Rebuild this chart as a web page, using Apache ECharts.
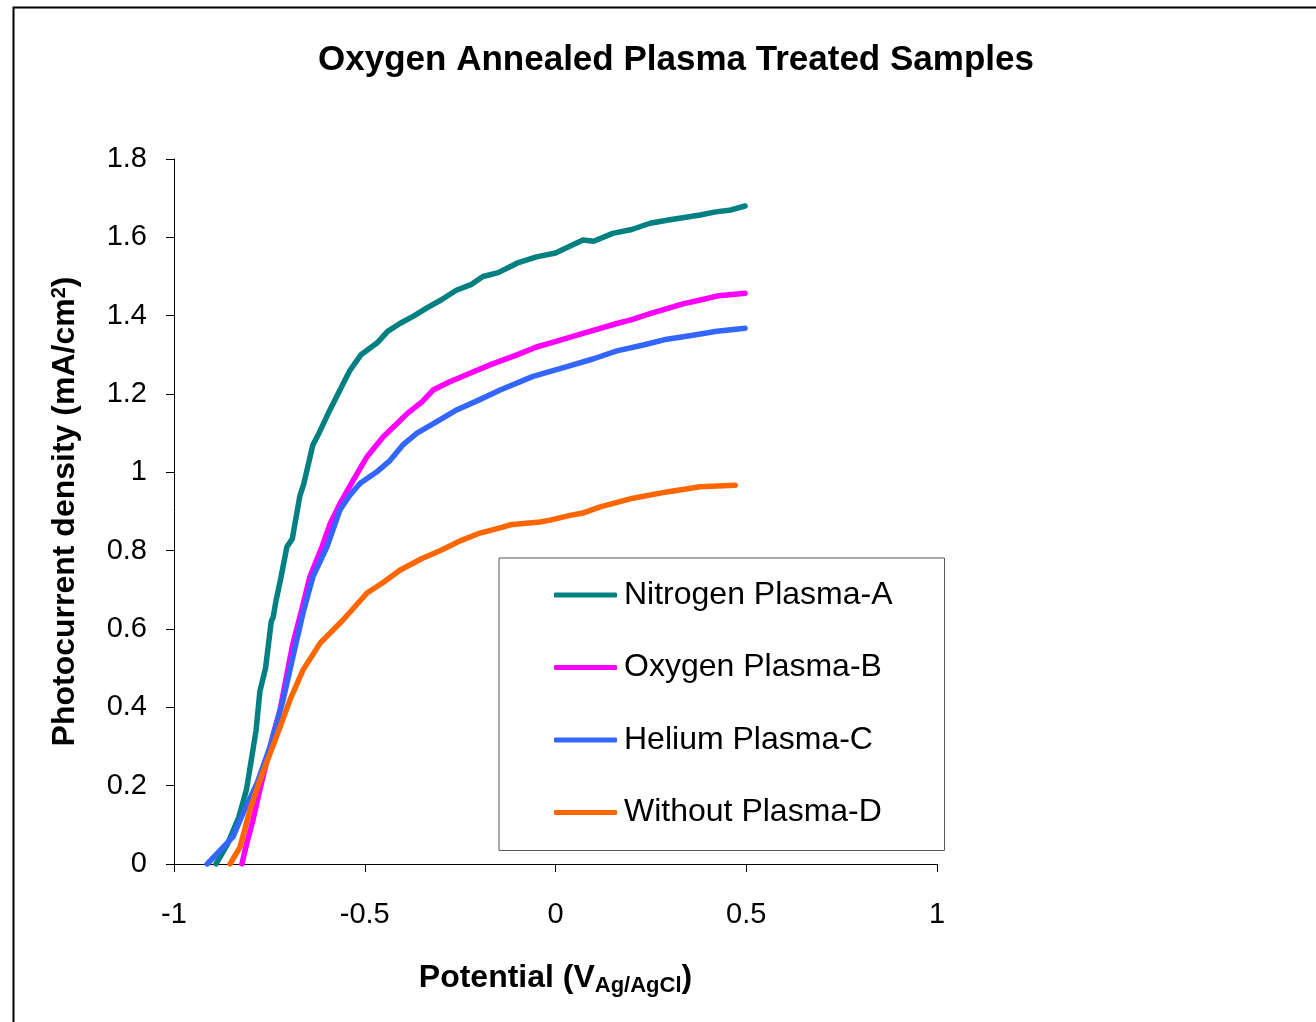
<!DOCTYPE html>
<html>
<head>
<meta charset="utf-8">
<script src="https://cdn.jsdelivr.net/npm/echarts@6/dist/echarts.min.js"></script>
<style>
html,body{margin:0;padding:0;background:#fff;}
#c{width:1316px;height:1022px;}
</style>
</head>
<body>
<div id="c"></div>
<script>
const seriesNames = ['Nitrogen Plasma-A','Oxygen Plasma-B','Helium Plasma-C','Without Plasma-D'];
const xTicks = [-1,-0.5,0,0.5,1];
const yTicks = [0,0.2,0.4,0.6,0.8,1,1.2,1.4,1.6,1.8];

const nitrogenA = [[-0.89,0],[-0.86,0.05],[-0.83,0.12],[-0.81,0.19],[-0.80,0.25],[-0.785,0.34],[-0.775,0.44],[-0.76,0.50],[-0.75,0.58],[-0.745,0.62],[-0.74,0.63],[-0.733,0.67],[-0.72,0.73],[-0.704,0.81],[-0.69,0.83],[-0.67,0.94],[-0.66,0.97],[-0.636,1.07],[-0.62,1.10],[-0.591,1.16],[-0.56,1.22],[-0.539,1.26],[-0.51,1.30],[-0.468,1.33],[-0.44,1.36],[-0.408,1.38],[-0.37,1.40],[-0.337,1.42],[-0.30,1.44],[-0.26,1.465],[-0.22,1.48],[-0.19,1.50],[-0.15,1.51],[-0.101,1.534],[-0.05,1.55],[0.0,1.56],[0.072,1.593],[0.10,1.59],[0.15,1.61],[0.20,1.62],[0.248,1.636],[0.30,1.645],[0.379,1.657],[0.42,1.665],[0.46,1.67],[0.497,1.68]];
const oxygenB = [[-0.822,0],[-0.81,0.05],[-0.793,0.112],[-0.775,0.19],[-0.756,0.265],[-0.74,0.33],[-0.722,0.393],[-0.705,0.48],[-0.688,0.564],[-0.665,0.65],[-0.644,0.733],[-0.612,0.81],[-0.59,0.87],[-0.565,0.92],[-0.53,0.98],[-0.494,1.04],[-0.452,1.09],[-0.42,1.12],[-0.389,1.15],[-0.35,1.18],[-0.321,1.21],[-0.28,1.23],[-0.232,1.25],[-0.17,1.275],[-0.101,1.30],[-0.05,1.32],[-0.014,1.33],[0.072,1.355],[0.161,1.38],[0.20,1.39],[0.248,1.405],[0.334,1.43],[0.38,1.44],[0.423,1.45],[0.497,1.457]];
const heliumC = [[-0.913,0],[-0.879,0.035],[-0.845,0.07],[-0.819,0.13],[-0.782,0.207],[-0.748,0.30],[-0.714,0.419],[-0.688,0.53],[-0.662,0.64],[-0.636,0.733],[-0.599,0.81],[-0.565,0.904],[-0.54,0.94],[-0.512,0.972],[-0.47,1.00],[-0.434,1.03],[-0.40,1.07],[-0.363,1.10],[-0.31,1.13],[-0.258,1.16],[-0.20,1.185],[-0.145,1.21],[-0.059,1.245],[0.030,1.27],[0.10,1.29],[0.161,1.31],[0.23,1.325],[0.292,1.34],[0.36,1.35],[0.423,1.36],[0.497,1.368]];
const withoutD = [[-0.853,0],[-0.827,0.043],[-0.801,0.138],[-0.775,0.214],[-0.748,0.283],[-0.722,0.35],[-0.696,0.419],[-0.662,0.495],[-0.617,0.564],[-0.557,0.623],[-0.494,0.692],[-0.45,0.72],[-0.408,0.75],[-0.35,0.78],[-0.303,0.80],[-0.25,0.825],[-0.198,0.845],[-0.138,0.86],[-0.119,0.866],[-0.041,0.873],[-0.014,0.878],[0.038,0.89],[0.072,0.896],[0.117,0.912],[0.203,0.934],[0.292,0.95],[0.379,0.963],[0.471,0.967]];

const colors = ['#008080','#FF00FF','#3366FF','#FF6600'];
const dataSets = [nitrogenA, oxygenB, heliumC, withoutD];

const chart = echarts.init(document.getElementById('c'), null, {renderer:'canvas'});
const font = '"Liberation Sans", Arial, sans-serif';
chart.setOption({
  backgroundColor:'#ffffff',
  animation:false,
  textStyle:{fontFamily:font},
  title:{
    text:'Oxygen Annealed Plasma Treated Samples',
    left:671, top:38, textAlign:'center',
    textStyle:{fontFamily:font,fontSize:35,fontWeight:'bold',color:'#000'}
  },
  graphic:[{
    type:'rect', left:11, top:5, z:-1,
    shape:{width:1320,height:1030},
    style:{fill:'none',stroke:'#000',lineWidth:2}
  }],
  grid:{left:174, right:379, top:159, bottom:158},
  legend:{
    orient:'vertical',
    left:499, top:558,
    padding:[19,52,20,55],
    itemGap:36.5,
    itemWidth:63, itemHeight:5,
    icon:'roundRect',
    borderColor:'#555', borderWidth:1,
    textStyle:{fontFamily:font,fontSize:32,color:'#000',lineHeight:36,padding:[0,0,0,2]},
    data:seriesNames
  },
  xAxis:{
    type:'value', min:-1, max:1, interval:0.5,
    splitLine:{show:false},
    axisLine:{onZero:false, lineStyle:{color:'#000',width:1}},
    axisTick:{show:true, length:8, inside:false, lineStyle:{color:'#000'}},
    axisLabel:{fontFamily:font,fontSize:29,color:'#000',margin:36,
      formatter:v=>String(v)},
    name:'Potential (V{s|Ag/AgCl})',
    nameLocation:'middle', nameGap:96,
    nameTextStyle:{fontFamily:font,fontSize:32,fontWeight:'bold',color:'#000',
      rich:{s:{fontFamily:font,fontSize:22,fontWeight:'bold',color:'#000',verticalAlign:'bottom',padding:[15,0,0,0]}}}
  },
  yAxis:{
    type:'value', min:0, max:1.8, interval:0.2,
    splitLine:{show:false},
    axisLine:{show:true, onZero:false, lineStyle:{color:'#000',width:1}},
    axisTick:{show:true, length:8, inside:false, lineStyle:{color:'#000'}},
    axisLabel:{fontFamily:font,fontSize:29,color:'#000',margin:27,
      formatter:v=>String(Math.round(v*10)/10)},
    name:'Photocurrent density (mA/cm{p|2})',
    nameLocation:'middle', nameGap:92,
    nameTextStyle:{fontFamily:font,fontSize:32,fontWeight:'bold',color:'#000',
      rich:{p:{fontFamily:font,fontSize:20,fontWeight:'bold',color:'#000',verticalAlign:'top',padding:[0,0,13,0]}}}
  },
  series: seriesNames.map((n,i)=>({
    name:n, type:'line', data:dataSets[i],
    showSymbol:false, smooth:false,
    lineStyle:{color:colors[i],width:5.5,cap:'round',join:'round'},
    itemStyle:{color:colors[i]},
    z:2+i
  }))
});
</script>
</body>
</html>
